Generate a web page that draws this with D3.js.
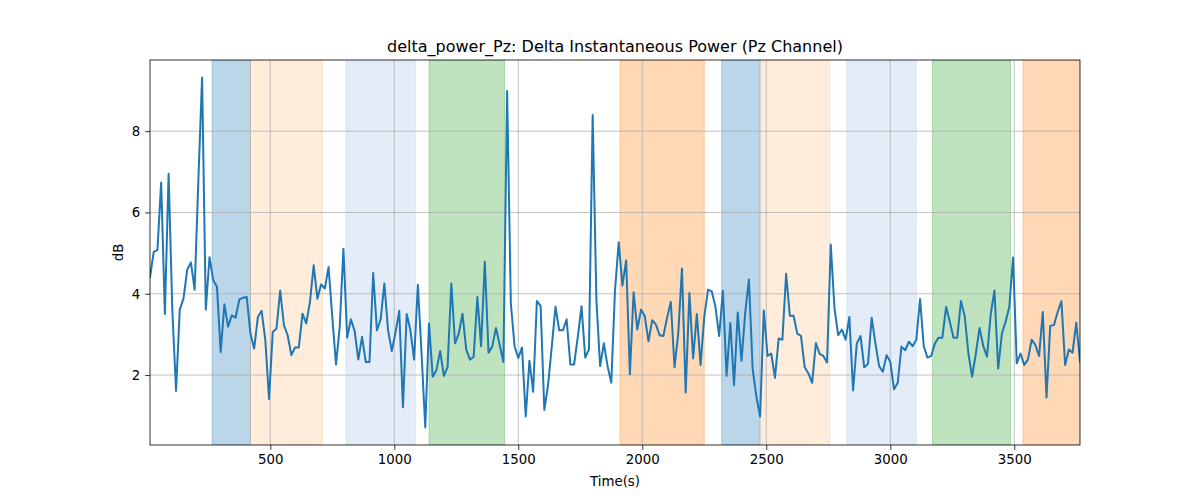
<!DOCTYPE html>
<html>
<head>
<meta charset="utf-8">
<script src="https://cdn.jsdelivr.net/npm/d3@7"></script>
<style>
  body { margin: 0; background: #fff; }
  svg { display: block; }
  text { font-family: "DejaVu Sans", sans-serif; fill: #000; }
</style>
</head>
<body>
<svg id="chart" width="1200" height="500"></svg>
<script>
// ---- Data ----
const timeStart = 15;
const timeStep = 15;
const powerValues = [
  4.41, 5.03, 5.08, 6.74, 3.50, 6.95, 3.60, 1.61, 3.61, 3.88,
  4.59, 4.77, 4.10, 6.80, 9.32, 3.61, 4.90, 4.33, 4.17, 2.57,
  3.74, 3.19, 3.47, 3.41, 3.86, 3.90, 3.92, 3.02, 2.65, 3.43,
  3.58, 2.86, 1.41, 3.06, 3.14, 4.08, 3.23, 2.98, 2.49, 2.68,
  2.68, 3.51, 3.27, 3.80, 4.70, 3.88, 4.23, 4.13, 4.66, 3.43,
  2.26, 3.19, 5.11, 2.92, 3.37, 3.09, 2.38, 2.94, 2.32, 2.32,
  4.51, 3.10, 3.37, 4.25, 3.10, 2.59, 3.05, 3.58, 1.21, 3.50,
  3.10, 2.38, 4.22, 2.53, 0.71, 3.27, 1.96, 2.12, 2.59, 1.98,
  2.20, 4.25, 2.78, 3.02, 3.51, 2.63, 2.38, 2.45, 3.92, 2.71,
  4.79, 2.55, 2.70, 3.16, 2.74, 2.32, 8.99, 3.76, 2.71, 2.42,
  2.68, 0.98, 2.35, 1.59, 3.82, 3.70, 1.14, 1.75, 2.70, 3.68,
  3.10, 3.10, 3.37, 2.26, 2.26, 2.94, 3.69, 2.43, 2.63, 8.40,
  3.84, 2.22, 2.78, 2.22, 1.81, 4.08, 5.27, 4.20, 4.82, 2.02,
  4.04, 3.12, 3.61, 3.45, 2.83, 3.35, 3.24, 2.98, 2.96, 3.41,
  3.80, 2.19, 3.02, 4.62, 1.57, 4.02, 2.41, 3.50, 2.25, 3.43,
  4.10, 4.06, 3.68, 2.96, 4.07, 1.98, 3.28, 1.75, 3.54, 2.35,
  3.53, 4.35, 2.16, 1.47, 0.98, 3.59, 2.47, 2.53, 1.93, 2.90,
  2.87, 4.49, 3.46, 3.46, 3.02, 2.96, 2.19, 2.04, 1.81, 2.79,
  2.52, 2.47, 2.31, 5.21, 3.64, 2.98, 3.12, 2.87, 3.43, 1.62,
  2.78, 2.96, 2.19, 2.27, 3.41, 2.78, 2.22, 2.08, 2.49, 2.33,
  1.65, 1.81, 2.70, 2.61, 2.82, 2.71, 2.87, 3.87, 2.71, 2.43,
  2.47, 2.78, 2.92, 2.92, 3.68, 3.31, 2.92, 2.92, 3.82, 3.45,
  2.53, 1.96, 2.53, 3.16, 2.71, 2.45, 3.50, 4.08, 2.16, 3.02,
  3.31, 3.68, 4.89, 2.29, 2.53, 2.25, 2.38, 2.87, 2.74, 2.47,
  3.55, 1.45, 3.21, 3.23, 3.55, 3.82, 2.25, 2.63, 2.55, 3.29,
  2.33
];
const bandStarts = [265, 420, 805, 1140, 1910, 2320, 2478, 2825, 3170, 3535];
const bandEnds   = [420, 710, 1085, 1445, 2250, 2475, 2755, 3105, 3485, 3765];
const bandKinds  = ["blue", "peach", "lavender", "green", "orange", "blue", "peach", "lavender", "green", "orange"];
const xTicks = [500, 1000, 1500, 2000, 2500, 3000, 3500];
const yTicks = [2, 4, 6, 8];
const titleText = "delta_power_Pz: Delta Instantaneous Power (Pz Channel)";
const xLabel = "Time(s)";
const yLabel = "dB";

// ---- Styles ----
const bandStyle = {
  blue:     { color: "#1f77b4", opacity: 0.3 },
  peach:    { color: "#ff7f0e", opacity: 0.15 },
  orange:   { color: "#ff7f0e", opacity: 0.3 },
  green:    { color: "#2ca02c", opacity: 0.3 },
  lavender: { color: "#aec7e8", opacity: 0.33 }
};

const points = powerValues.map((v, i) => ({ t: timeStart + i * timeStep, v }));
const bands = bandStarts.map((s, i) => ({ s, e: bandEnds[i], kind: bandKinds[i] }));

const margin = { left: 150, right: 120, top: 60, bottom: 55 };
const W = 1200, H = 500;
const pw = W - margin.left - margin.right;
const ph = H - margin.top - margin.bottom;

const tMin = points[0].t, tMax = points[points.length - 1].t;
const vMin = d3.min(powerValues), vMax = d3.max(powerValues);
const pad = (vMax - vMin) * 0.05;

const x = d3.scaleLinear().domain([tMin, tMax]).range([0, pw]);
const y = d3.scaleLinear().domain([vMin - pad, vMax + pad]).range([ph, 0]);

const svg = d3.select("#chart");
const g = svg.append("g").attr("transform", `translate(${margin.left},${margin.top})`);

g.append("clipPath").attr("id", "clip").append("rect").attr("width", pw).attr("height", ph);
const plot = g.append("g").attr("clip-path", "url(#clip)");

// bands
plot.selectAll("rect.band").data(bands).join("rect")
  .attr("class", "band")
  .attr("x", d => x(d.s))
  .attr("width", d => x(d.e) - x(d.s))
  .attr("y", 0)
  .attr("height", ph)
  .attr("fill", d => bandStyle[d.kind].color)
  .attr("fill-opacity", d => bandStyle[d.kind].opacity)
  .attr("stroke", d => bandStyle[d.kind].color)
  .attr("stroke-opacity", d => bandStyle[d.kind].opacity)
  .attr("stroke-width", 1);

// grid
plot.selectAll("line.gx").data(xTicks).join("line")
  .attr("x1", d => x(d)).attr("x2", d => x(d))
  .attr("y1", 0).attr("y2", ph)
  .attr("stroke", "#b0b0b0").attr("stroke-width", 0.8);
plot.selectAll("line.gy").data(yTicks).join("line")
  .attr("y1", d => y(d)).attr("y2", d => y(d))
  .attr("x1", 0).attr("x2", pw)
  .attr("stroke", "#b0b0b0").attr("stroke-width", 0.8);

// line
const line = d3.line().x(d => x(d.t)).y(d => y(d.v));
plot.append("path").datum(points)
  .attr("fill", "none")
  .attr("stroke", "#1f77b4")
  .attr("stroke-width", 2)
  .attr("stroke-linejoin", "round")
  .attr("stroke-linecap", "square")
  .attr("d", line);

// axes
const xAxis = d3.axisBottom(x).tickValues(xTicks).tickSize(4.9).tickPadding(4.9).tickFormat(d3.format("d"));
const yAxis = d3.axisLeft(y).tickValues(yTicks).tickSize(4.9).tickPadding(4.9).tickFormat(d3.format("d"));

const gx = g.append("g").attr("transform", `translate(0,${ph})`).call(xAxis);
const gy = g.append("g").call(yAxis);
[gx, gy].forEach(a => {
  a.select(".domain").remove();
  a.selectAll(".tick line").attr("stroke", "#000").attr("stroke-width", 0.8);
  a.selectAll(".tick text").attr("font-size", "13.33px").attr("font-family", "DejaVu Sans, sans-serif").attr("fill", "#000");
});

// frame
g.append("rect").attr("width", pw).attr("height", ph)
  .attr("fill", "none").attr("stroke", "#000").attr("stroke-width", 0.8);

// title and labels
svg.append("text").attr("x", margin.left + pw / 2).attr("y", 52)
  .attr("text-anchor", "middle").attr("font-size", "16px").text(titleText);
svg.append("text").attr("x", margin.left + pw / 2).attr("y", 486)
  .attr("text-anchor", "middle").attr("font-size", "13.33px").text(xLabel);
svg.append("text")
  .attr("transform", `translate(123,${margin.top + ph / 2}) rotate(-90)`)
  .attr("text-anchor", "middle").attr("font-size", "13.33px").text(yLabel);
</script>
</body>
</html>
